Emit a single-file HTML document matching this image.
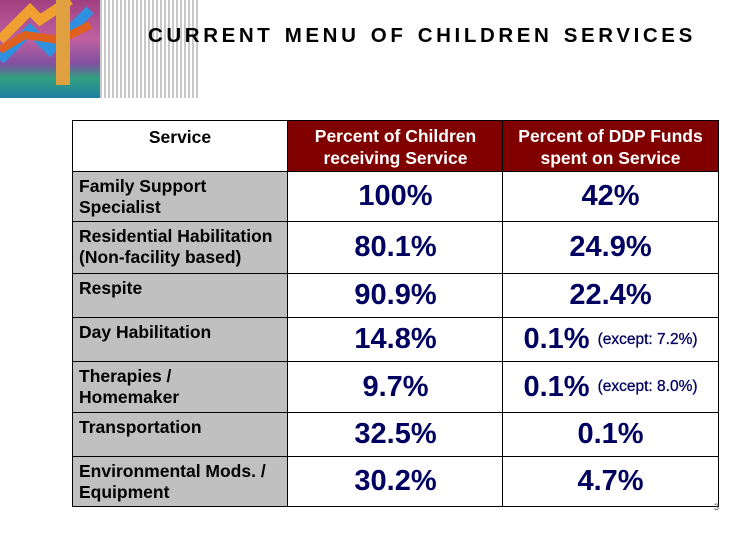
<!DOCTYPE html>
<html><head><meta charset="utf-8"><style>
body{margin:0;width:756px;height:540px;background:#fff;position:relative;overflow:hidden;font-family:"Liberation Sans",Arial,sans-serif}
.a{position:absolute;box-sizing:border-box}
.c{position:absolute;box-sizing:border-box;border:1.5px solid #000}
.lbl{background:#c0c0c0;font-weight:bold;font-size:17.5px;line-height:21px;padding:4px 6px;color:#000;white-space:nowrap}
.hd{background:#800000;color:#fff;font-weight:bold;font-size:17.5px;line-height:22px;text-align:center;padding-top:4px;white-space:nowrap}
.v{background:#fff;color:#000060;font-weight:bold;font-size:29px;text-align:center;display:flex;align-items:center;justify-content:center;white-space:nowrap}
.v small{font-size:15.5px;margin-left:8px;font-weight:normal;color:#000060;-webkit-text-stroke:0.3px #000060}
</style></head><body>
<div class="a" style="left:0;top:0;width:100px;height:98px;background:linear-gradient(180deg,#a04080 0%,#c060a0 40%,#8050a0 65%,#30a080 80%,#2080a0 100%)">
<svg width="100" height="98"><path d="M0 40 L30 10 L40 20 L70 0" stroke="#f0a030" stroke-width="10" fill="none"/><path d="M0 60 L30 30 L50 50 L90 10" stroke="#3090e0" stroke-width="10" fill="none"/><path d="M0 50 L25 35 L60 40 L90 25" stroke="#e06020" stroke-width="8" fill="none"/><rect x="56" y="0" width="14" height="85" fill="#e0a040"/></svg></div>
<div class="a" style="left:100px;top:0;width:98px;height:98px;background:repeating-linear-gradient(90deg,#c8c8c8 0 2px,#fff 2px 4px)"></div>
<div class="a" style="left:148px;top:24px;font-size:20.5px;font-weight:bold;letter-spacing:3.6px;word-spacing:2px;white-space:nowrap">CURRENT MENU OF CHILDREN SERVICES</div>

<div class="c lbl" style="left:72px;top:120px;width:216px;height:52px;background:#fff;text-align:center;padding-top:6px">Service</div>
<div class="c hd" style="left:287px;top:120px;width:217px;height:52px">Percent of Children<br>receiving Service</div>
<div class="c hd" style="left:502px;top:120px;width:217px;height:52px">Percent of DDP Funds<br>spent on Service</div>

<div id="rows"></div>
<div class="a" style="left:714px;top:502px;font-size:9px;color:#555">3</div>
<script>
const services=["Family Support<br>Specialist","Residential Habilitation<br>(Non-facility based)","Respite","Day Habilitation","Therapies /<br>Homemaker","Transportation","Environmental Mods. /<br>Equipment"];
const childPct=["100%","80.1%","90.9%","14.8%","9.7%","32.5%","30.2%"];
const fundPct=["42%","24.9%","22.4%","0.1%","0.1%","0.1%","4.7%"];
const fundNote=["","","","(except: 7.2%)","(except: 8.0%)","",""];
const edges=[171,221,273,317,361,412,456,506];
const root=document.getElementById('rows');
services.forEach((s,i)=>{
  const t=edges[i],h=edges[i+1]-t+1;
  const a=document.createElement('div');a.className='c lbl';
  
  
  a.style.cssText=`left:72px;top:${t}px;width:216px;height:${h}px`;a.innerHTML=s;root.appendChild(a);
  const b=document.createElement('div');b.className='c v';
  
  
  b.style.cssText=`left:287px;top:${t}px;width:217px;height:${h}px`;b.textContent=childPct[i];root.appendChild(b);
  const c=document.createElement('div');c.className='c v';
  
  
  c.style.cssText=`left:502px;top:${t}px;width:217px;height:${h}px`;
  c.innerHTML=fundPct[i]+(fundNote[i]?'<small>'+fundNote[i]+'</small>':'');root.appendChild(c);
});
</script>
</body></html>
